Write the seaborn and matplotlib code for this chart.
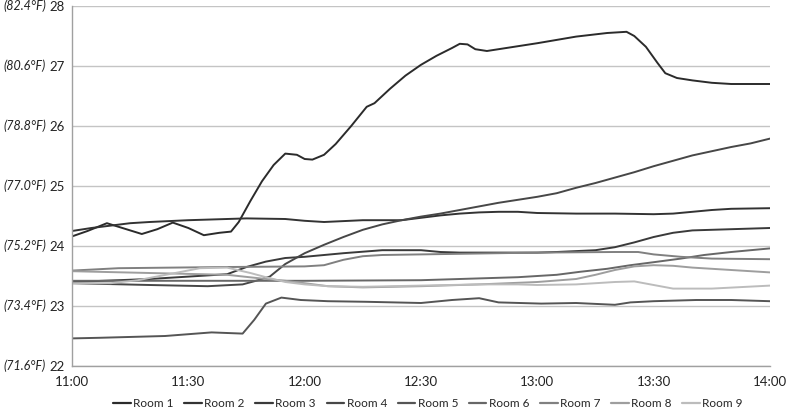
import pandas as pd
import matplotlib
matplotlib.use("Agg")
import matplotlib.pyplot as plt
import matplotlib.transforms as mtransforms
import seaborn as sns

# -----------------------------
# Data (minutes after 11:00, temperature in °C)
# -----------------------------
room1_min = [0, 4, 9, 13, 18, 22, 26, 30, 34, 38, 41, 43, 46, 49, 52, 55, 58, 60, 62, 65,
             68, 72, 76, 78, 82, 86, 90, 94, 98, 100, 102, 104, 107, 110, 120, 130, 138,
             143, 145, 148, 151, 153, 156, 160, 165, 170, 180]
room1_temp = [24.16, 24.25, 24.38, 24.3, 24.2, 24.28, 24.39, 24.3, 24.18, 24.22, 24.24, 24.4,
              24.75, 25.08, 25.35, 25.54, 25.52, 25.45, 25.44, 25.52, 25.7, 26.0, 26.32,
              26.38, 26.62, 26.84, 27.02, 27.17, 27.3, 27.37, 27.36, 27.28, 27.25, 27.28,
              27.38, 27.49, 27.55, 27.57, 27.5, 27.32, 27.05, 26.88, 26.8, 26.76, 26.72,
              26.7, 26.7]

room2_min = [0, 5, 10, 15, 20, 30, 35, 45, 55, 60, 65, 75, 85, 90, 95, 100, 105, 110, 115,
             120, 130, 140, 150, 155, 160, 165, 170, 180]
room2_temp = [24.25, 24.3, 24.34, 24.38, 24.4, 24.43, 24.44, 24.46, 24.45, 24.42, 24.4,
              24.43, 24.43, 24.47, 24.51, 24.54, 24.56, 24.57, 24.57, 24.55, 24.54, 24.54,
              24.53, 24.54, 24.57, 24.6, 24.62, 24.63]

room3_min = [0, 20, 40, 45, 50, 55, 60, 70, 80, 90, 95, 100, 110, 120, 125, 135, 140, 145,
             150, 155, 160, 170, 180]
room3_temp = [23.4, 23.45, 23.53, 23.65, 23.74, 23.8, 23.82, 23.88, 23.93, 23.93, 23.9,
              23.89, 23.89, 23.89, 23.9, 23.93, 23.98, 24.06, 24.15, 24.22, 24.26, 24.28,
              24.3]

room4_min = [0, 20, 35, 44, 48, 51, 55, 60, 65, 70, 75, 80, 85, 90, 95, 100, 105, 110, 115,
             120, 125, 130, 135, 140, 145, 150, 155, 160, 165, 170, 175, 180]
room4_temp = [23.38, 23.35, 23.33, 23.36, 23.43, 23.49, 23.7, 23.88, 24.02, 24.15, 24.27,
              24.36, 24.43, 24.49, 24.54, 24.6, 24.66, 24.72, 24.77, 24.82, 24.88, 24.97,
              25.05, 25.14, 25.23, 25.33, 25.42, 25.51, 25.58, 25.65, 25.71, 25.79]

room5_min = [0, 7, 24, 36, 44, 47, 50, 54, 59, 66, 76, 90, 98, 105, 110, 121, 130, 140, 144,
             150, 161, 170, 180]
room5_temp = [22.46, 22.47, 22.5, 22.56, 22.54, 22.77, 23.04, 23.14, 23.1, 23.08, 23.07,
              23.05, 23.1, 23.13, 23.06, 23.04, 23.05, 23.02, 23.06, 23.08, 23.1, 23.1,
              23.08]

room6_min = [0, 30, 60, 90, 100, 115, 125, 131, 138, 144, 150, 157, 163, 170, 180]
room6_temp = [23.42, 23.42, 23.42, 23.43, 23.45, 23.48, 23.52, 23.57, 23.62, 23.68, 23.73,
              23.79, 23.85, 23.9, 23.96]

room7_min = [0, 12, 40, 60, 65, 70, 75, 80, 90, 100, 110, 120, 140, 146, 150, 157, 165, 180]
room7_temp = [23.59, 23.63, 23.65, 23.66, 23.68, 23.77, 23.83, 23.85, 23.86, 23.87, 23.88,
              23.89, 23.9, 23.9, 23.86, 23.82, 23.79, 23.78]

room8_min = [0, 20, 40, 50, 55, 60, 66, 75, 90, 105, 120, 130, 135, 140, 145, 150, 155, 160,
             170, 180]
room8_temp = [23.58, 23.55, 23.52, 23.45, 23.42, 23.38, 23.33, 23.31, 23.33, 23.36, 23.4,
              23.45, 23.52, 23.6, 23.66, 23.68, 23.67, 23.64, 23.6, 23.56]

room9_min = [0, 10, 17, 25, 33, 40, 46, 50, 55, 60, 66, 75, 90, 105, 115, 120, 130, 140, 145,
             150, 155, 165, 180]
room9_temp = [23.38, 23.38, 23.43, 23.53, 23.63, 23.64, 23.55, 23.48, 23.4, 23.36, 23.33,
              23.32, 23.34, 23.36, 23.36, 23.35, 23.36, 23.4, 23.41, 23.35, 23.29, 23.29,
              23.34]

room_names = ["Room 1", "Room 2", "Room 3", "Room 4", "Room 5",
              "Room 6", "Room 7", "Room 8", "Room 9"]
room_colors = ["#2b2b2b", "#333333", "#3a3a3a", "#474747", "#555555",
               "#676767", "#808080", "#9e9e9e", "#bcbcbc"]

time_ticks = [0, 30, 60, 90, 120, 150, 180]
time_labels = ["11:00", "11:30", "12:00", "12:30", "13:00", "13:30", "14:00"]
celsius_ticks = [22, 23, 24, 25, 26, 27, 28]

# -----------------------------
# Long table for seaborn
# -----------------------------
series = [
    (room1_min, room1_temp), (room2_min, room2_temp), (room3_min, room3_temp),
    (room4_min, room4_temp), (room5_min, room5_temp), (room6_min, room6_temp),
    (room7_min, room7_temp), (room8_min, room8_temp), (room9_min, room9_temp),
]
frames = []
for name, (mins, temps) in zip(room_names, series):
    frames.append(pd.DataFrame({"minute": mins, "temp": temps, "room": name}))
df = pd.concat(frames, ignore_index=True)

# -----------------------------
# Plot
# -----------------------------
sns.set_theme(style="white")
plt.rcParams["font.family"] = ["Lato", "DejaVu Sans"]

fig = plt.figure(figsize=(7.9, 4.08), dpi=100)
ax = fig.add_axes([72 / 790, 42 / 408, 698 / 790, 360 / 408])

sns.lineplot(data=df, x="minute", y="temp", hue="room", hue_order=room_names,
             palette=room_colors, linewidth=1.4, ax=ax, sort=True,
             estimator=None, legend=True)

ax.set_xlim(0, 180)
ax.set_ylim(22, 28)
ax.set_xticks(time_ticks)
ax.set_xticklabels(time_labels, fontsize=9.5, color="#222222")
ax.set_yticks(celsius_ticks)
ax.set_yticklabels([str(c) for c in celsius_ticks], fontsize=9.5, color="#222222")
ax.tick_params(axis="both", length=0, pad=5)
ax.tick_params(axis="x", pad=7)
ax.set_xlabel("")
ax.set_ylabel("")

ax.yaxis.grid(True, color="#c4c4c4", linewidth=1.0)
ax.xaxis.grid(False)
for side in ["top", "right"]:
    ax.spines[side].set_visible(False)
ax.spines["left"].set_color("#a0a0a0")
ax.spines["bottom"].set_color("#a0a0a0")
ax.spines["left"].set_linewidth(1.0)
ax.spines["bottom"].set_linewidth(1.0)

# Fahrenheit labels to the left of the Celsius ticks
trans = mtransforms.blended_transform_factory(fig.transFigure, ax.transData)
for c in celsius_ticks:
    f = c * 1.8 + 32
    ax.text(3 / 790, c, f"({f:.1f}°F)", transform=trans, ha="left", va="center",
            fontsize=9, style="italic", color="#222222")

# legend along the bottom edge
handles, labels = ax.get_legend_handles_labels()
ax.get_legend().remove()
leg = fig.legend(handles, labels, loc="lower center", bbox_to_anchor=(428 / 790, -0.02),
                 ncol=9, frameon=False, fontsize=8.5, handlelength=1.5,
                 handletextpad=0.2, columnspacing=0.9, borderpad=0.1)
for line in leg.get_lines():
    line.set_linewidth(1.6)

fig.savefig("out.png", dpi=100)
